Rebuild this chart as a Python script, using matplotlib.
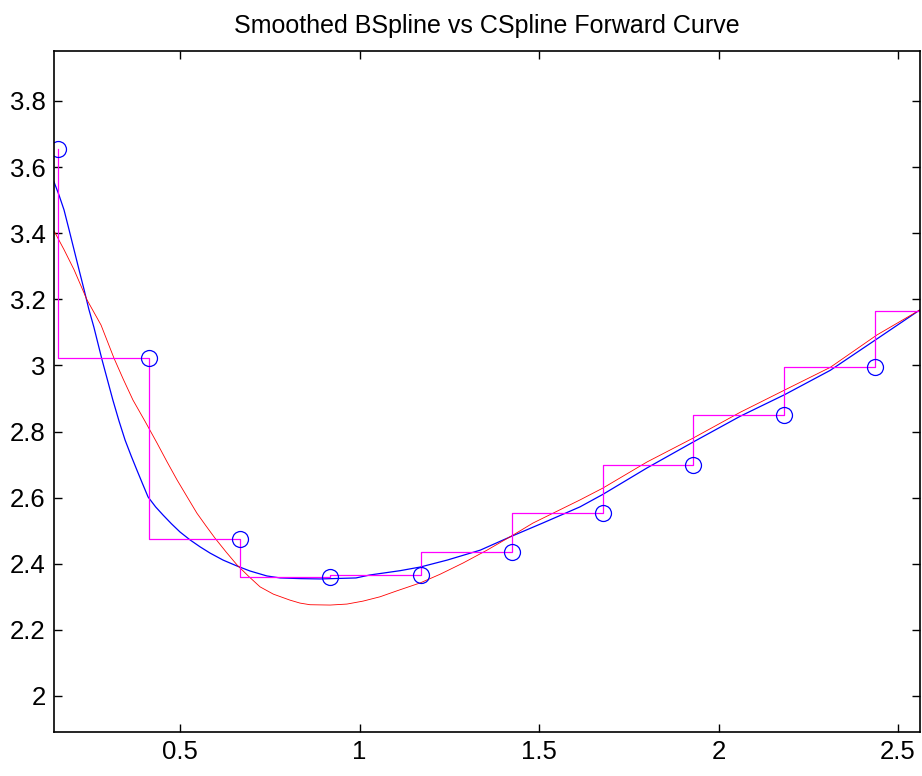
import numpy as np
import matplotlib.pyplot as plt

plt.rcParams['font.family'] = ['Liberation Sans', 'DejaVu Sans']

# market points (circles) and piecewise flat forward levels
pt_t = [0.160, 0.413, 0.666, 0.919, 1.172, 1.425, 1.678, 1.930, 2.183, 2.436]
pt_r = [3.655, 3.022, 2.475, 2.360, 2.366, 2.434, 2.554, 2.699, 2.850, 2.995]
step_t = [0.160, 0.413, 0.666, 0.919, 1.172, 1.425, 1.678, 1.930, 2.183, 2.436, 2.561]
step_r = [3.655, 3.022, 2.475, 2.360, 2.366, 2.434, 2.554, 2.699, 2.850, 2.995, 3.165]

# smoothed B-spline forward curve (blue)
bs_t = [0.149, 0.163, 0.177, 0.191, 0.205, 0.219, 0.233, 0.246, 0.260, 0.283,
        0.313, 0.330, 0.347, 0.364, 0.380, 0.396, 0.411, 0.432, 0.453, 0.476,
        0.500, 0.528, 0.556, 0.584, 0.620, 0.659, 0.695, 0.742, 0.779, 0.835,
        0.890, 0.990, 1.029, 1.113, 1.169, 1.244, 1.336, 1.419, 1.510, 1.614,
        1.678, 1.801, 1.929, 2.060, 2.185, 2.311, 2.441, 2.561]
bs_r = [3.555, 3.515, 3.470, 3.410, 3.349, 3.288, 3.228, 3.170, 3.116, 3.016,
        2.895, 2.832, 2.774, 2.726, 2.683, 2.641, 2.602, 2.572, 2.547, 2.521,
        2.496, 2.472, 2.451, 2.432, 2.411, 2.393, 2.378, 2.363, 2.357, 2.355,
        2.354, 2.357, 2.366, 2.379, 2.390, 2.411, 2.441, 2.481, 2.523, 2.572,
        2.610, 2.690, 2.768, 2.846, 2.912, 2.985, 3.080, 3.168]

# C-spline forward curve (red)
cs_t = [0.149, 0.177, 0.205, 0.241, 0.280, 0.316, 0.342, 0.369, 0.403, 0.436,
        0.464, 0.492, 0.520, 0.547, 0.572, 0.597, 0.628, 0.659, 0.691, 0.723,
        0.760, 0.806, 0.834, 0.862, 0.918, 0.965, 1.010, 1.057, 1.104, 1.169,
        1.224, 1.288, 1.355, 1.428, 1.483, 1.614, 1.678, 1.801, 1.929, 2.060,
        2.185, 2.311, 2.441, 2.561]
cs_r = [3.407, 3.350, 3.289, 3.198, 3.122, 3.022, 2.958, 2.895, 2.830, 2.765,
        2.708, 2.653, 2.602, 2.553, 2.515, 2.478, 2.436, 2.396, 2.362, 2.330,
        2.308, 2.290, 2.281, 2.276, 2.275, 2.278, 2.287, 2.300, 2.318, 2.342,
        2.368, 2.402, 2.441, 2.487, 2.523, 2.593, 2.629, 2.708, 2.780, 2.858,
        2.926, 2.994, 3.092, 3.168]

fig = plt.figure(figsize=(9.22, 7.76), dpi=100)
ax = fig.add_axes([54/922, 44/776, 866/922, 681/776])

ax.plot(bs_t, bs_r, color='#0000ff', lw=0.9)
ax.plot(cs_t, cs_r, color='#ff0000', lw=0.6)
ax.step(step_t, step_r, where='pre', color='#ff00ff', lw=0.9)
ax.plot(pt_t, pt_r, 'o', mfc='none', mec='#0000ff', ms=11.5, mew=0.9)

ax.set_xlim(0.149, 2.561)
ax.set_ylim(1.891, 3.951)
ax.set_xticks([0.5, 1, 1.5, 2, 2.5])
ax.set_xticklabels(['0.5', '1', '1.5', '2', '2.5'])
ax.set_yticks([2, 2.2, 2.4, 2.6, 2.8, 3, 3.2, 3.4, 3.6, 3.8])
ax.set_yticklabels(['2', '2.2', '2.4', '2.6', '2.8', '3', '3.2', '3.4', '3.6', '3.8'])
ax.tick_params(direction='in', length=6, width=1, labelsize=18.5,
               top=True, right=True, pad=6)
for s in ax.spines.values():
    s.set_linewidth(1.2)

ax.set_title('Smoothed BSpline vs CSpline Forward Curve', fontsize=18, pad=13)

fig.savefig('out.png', dpi=100)
